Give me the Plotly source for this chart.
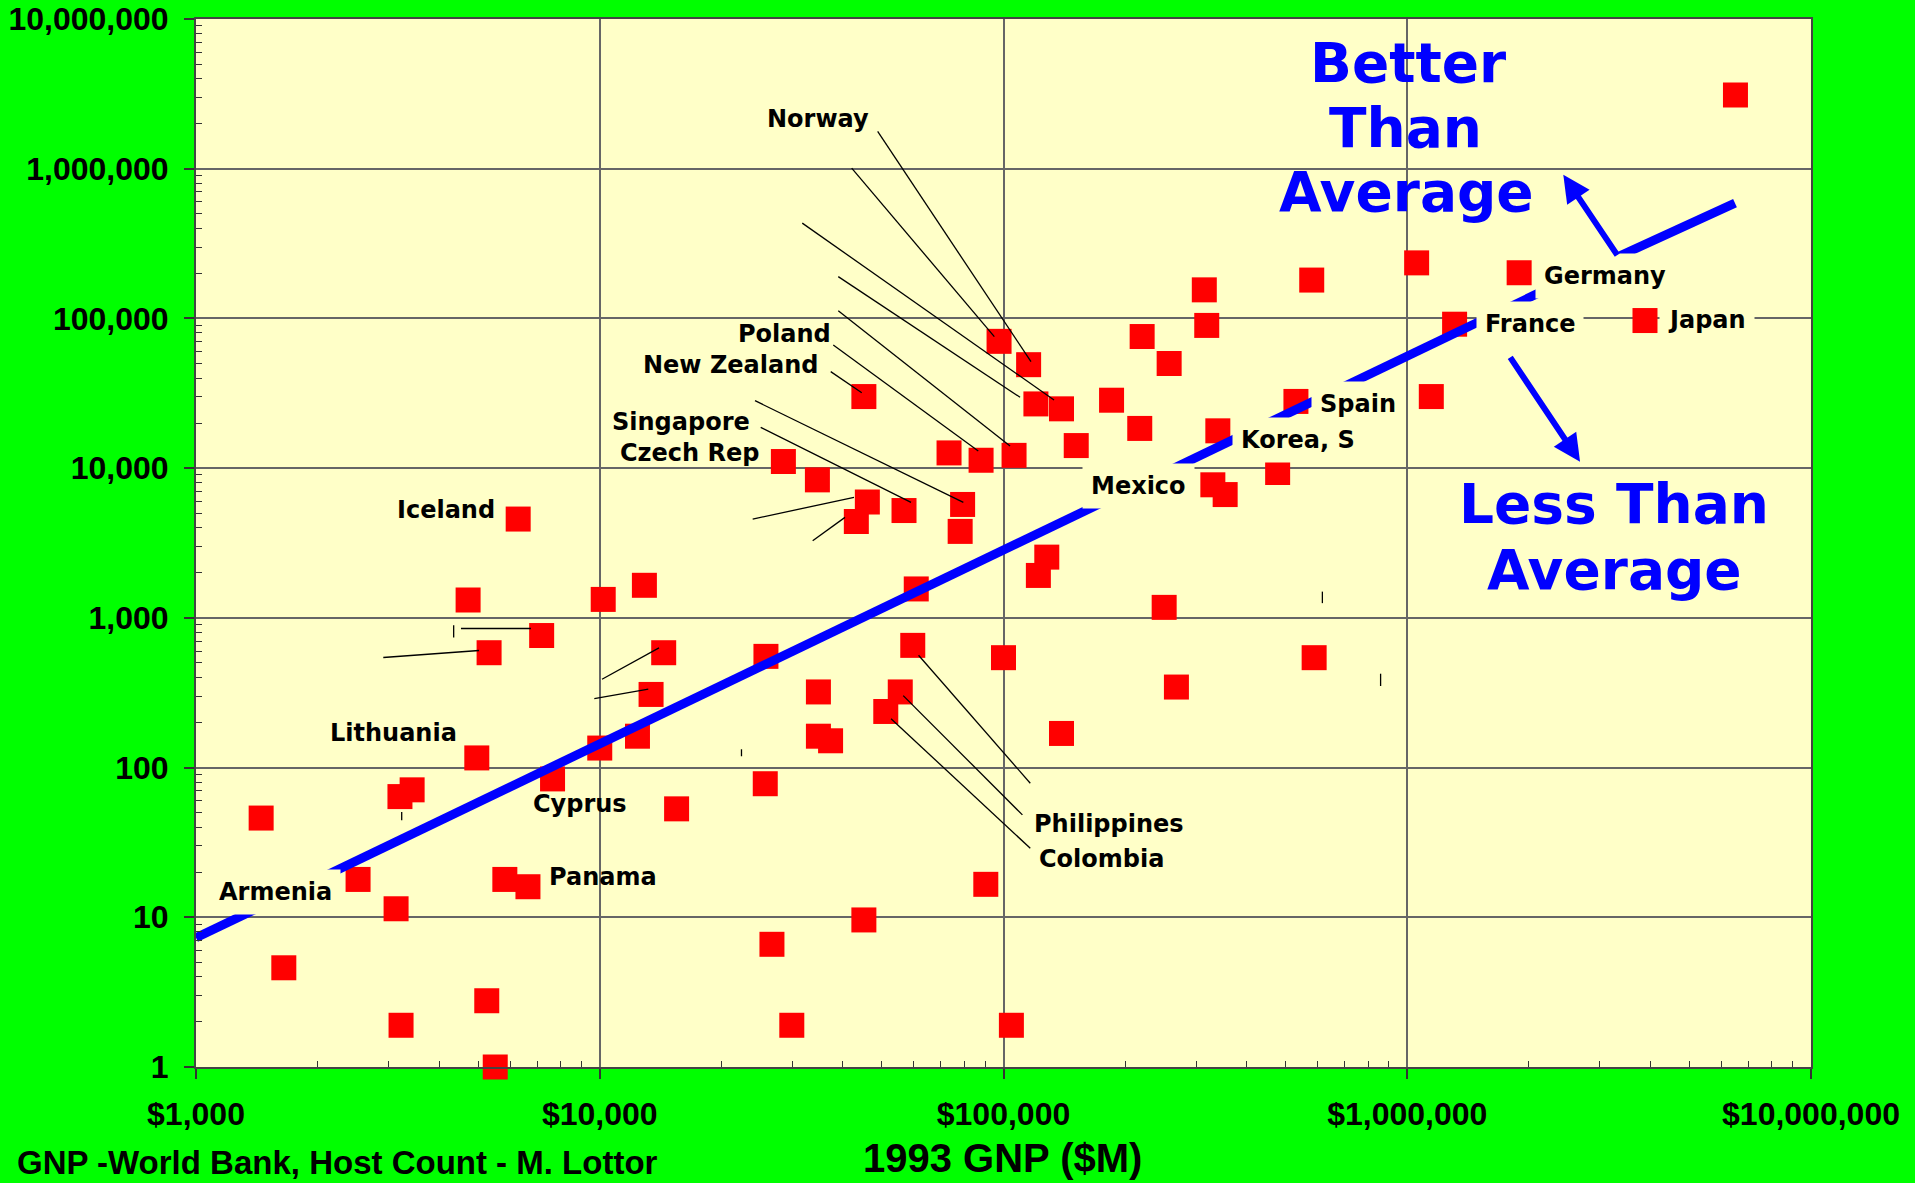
import numpy as np
import plotly.graph_objects as go

# ---------------- data ----------------
gnp_musd = [1450, 1650, 2520, 3130, 3200, 3430, 3220, 4720, 5320, 4960,
            5250, 5510, 5820, 6640, 6280, 7180, 7640, 10000, 10200, 12900,
            12400, 13400, 14400, 15500, 25800, 25700, 26700, 28500, 29900, 34600,
            34800, 34800, 37300, 43200, 45100, 46000, 45100, 51100, 55500, 56700,
            59600, 60800, 73300, 78100, 79200, 88000, 90400, 97500, 100000, 104600,
            106200, 115400, 120300, 122000, 128000, 139200, 139200, 151400, 185200, 217500,
            220500, 250000, 257200, 268100, 314300, 318700, 330000, 339500, 354000, 477500,
            530000, 580000, 588000, 1055000, 1147000, 1310000, 1893000, 3880000, 6500000]
host_count = [46, 4.6, 17.9, 11.4, 64, 71, 1.9, 1316, 585, 116,
              2.77, 1.0, 17.9, 16.0, 4570, 762, 84, 135, 1328, 1650,
              162, 308, 585, 53, 553, 78, 6.6, 11070, 1.9, 8350,
              320, 162, 151, 4400, 30070, 5940, 9.6, 237, 320, 5210,
              655, 1560, 12640, 3780, 5720, 11290, 16.6, 70300, 542, 1.9,
              12170, 49100, 26850, 1920, 2545, 24900, 169, 14150, 28430, 18420,
              75700, 1175, 50000, 345, 155200, 89800, 7740, 17750, 6660, 9350,
              27900, 180400, 542, 235000, 30070, 91500, 201900, 96800, 3107000]

trend_gnp = [1000, 2190000]
trend_hosts = [7.3, 154500]

x_tick_vals = [1e3, 1e4, 1e5, 1e6, 1e7]
x_tick_text = ["$1,000", "$10,000", "$100,000", "$1,000,000", "$10,000,000"]
y_tick_vals = [1, 10, 100, 1e3, 1e4, 1e5, 1e6, 1e7]
y_tick_text = ["1", "10", "100", "1,000", "10,000", "100,000", "1,000,000", "10,000,000"]

label_text = ["Norway", "Poland", "New Zealand", "Singapore", "Czech Rep", "Iceland",
              "Lithuania", "Cyprus", "Panama", "Armenia", "Mexico", "Korea, S",
              "Spain", "France", "Germany", "Japan", "Philippines", "Colombia"]
label_gnp = [34720, 28690, 21120, 15920, 16680, 4172,
             3090, 8915, 10160, 1570, 215400, 536300,
             755100, 2019000, 3095000, 5511000, 182500, 174700]
label_hosts = [2152000, 78770, 48880, 20330, 12710, 5248,
               169.6, 56.9, 18.5, 14.8, 7595, 15410,
               26820, 91880, 192400, 97720, 41.8, 24.6]
label_boxed = [False, False, False, False, False, False,
               False, False, False, True, True, True,
               True, True, True, True, False, False]

# leader lines: (gnp0, hosts0, gnp1, hosts1)
leader_lines = [
    (48790, 1773000, 116970, 51430),
    (42070, 1009000, 94900, 75560),
    (31740, 432900, 133400, 28520),
    (38970, 190300, 109900, 29740),
    (38970, 112700, 103800, 14050),
    (37880, 66500, 86600, 13010),
    (37330, 44110, 44560, 31920),
    (24240, 28220, 79530, 5907),
    (25040, 18740, 59010, 5907),
    (23920, 4568, 42630, 6378),
    (33680, 3271, 40490, 4690),
    (4532, 849, 6755, 849),
    (4347, 894, 4347, 740),
    (2910, 543.5, 5023, 605.5),
    (10130, 389, 14020, 630),
    (9694, 289, 13190, 333.7),
    (3232, 50.5, 3232, 44.4),
    (61600, 563, 116500, 78.6),
    (56440, 302.4, 111400, 48.3),
    (52660, 212, 116500, 28.9),
    (616300, 1497, 616300, 1254),
    (859000, 423.6, 859000, 350.6),
    (22440, 132.5, 22440, 119),
]

# "better / less than average" arrows
check_arm_gnp = [3332000, 6483000]
check_arm_hosts = [258900, 589000]
better_arrow = (3332000, 258900, 2435000, 910400)   # tail -> tip
less_arrow = (1789000, 56150, 2679000, 11040)       # tail -> tip

# ---------------- styling ----------------
GREEN = "#00FF00"
PLOT_BG = "#FFFFC8"
RED = "#FF0000"
BLUE = "#0000FF"
W, H = 1915, 1183
ML, MR, MT, MB = 196, 104, 19, 116

fig = go.Figure()

fig.add_trace(go.Scatter(
    x=gnp_musd, y=host_count, mode="markers",
    marker=dict(symbol="square", size=25, color=RED, line=dict(width=0)),
    cliponaxis=False, hoverinfo="skip", showlegend=False))

fig.add_trace(go.Scatter(
    x=trend_gnp, y=trend_hosts, mode="lines",
    line=dict(color=BLUE, width=9), hoverinfo="skip", showlegend=False))

lx, ly = [], []
for g0, h0, g1, h1 in leader_lines:
    lx += [g0, g1, None]
    ly += [h0, h1, None]
fig.add_trace(go.Scatter(x=lx, y=ly, mode="lines",
                         line=dict(color="black", width=1.3),
                         hoverinfo="skip", showlegend=False))

fig.add_trace(go.Scatter(x=check_arm_gnp, y=check_arm_hosts, mode="lines",
                         line=dict(color=BLUE, width=9),
                         hoverinfo="skip", showlegend=False))

annotations = []
for t, gx, hy, boxed in zip(label_text, label_gnp, label_hosts, label_boxed):
    annotations.append(dict(
        x=np.log10(gx), y=np.log10(hy), xref="x", yref="y", text=t,
        showarrow=False, xanchor="center", yanchor="middle",
        font=dict(family="DejaVu Sans", size=24, color="black", weight="bold"),
        bgcolor=PLOT_BG if boxed else "rgba(0,0,0,0)", borderpad=8 if boxed else 0))

for (g0, h0, g1, h1) in (better_arrow, less_arrow):
    annotations.append(dict(
        x=np.log10(g1), y=np.log10(h1), ax=np.log10(g0), ay=np.log10(h0),
        xref="x", yref="y", axref="x", ayref="y", text="",
        showarrow=True, arrowhead=2, arrowsize=0.9, arrowwidth=6,
        arrowcolor=BLUE, standoff=0, startstandoff=0))


def px_to_paper(px, py):
    return (px - ML) / (W - ML - MR), (H - MB - py) / (H - MT - MB)


big_lines = [("Better", 1408, 63), ("Than", 1405, 128), ("Average", 1406, 192),
             ("Less Than", 1614, 504), ("Average", 1614, 570)]
for t, cx, cy in big_lines:
    xp, yp = px_to_paper(cx, cy)
    annotations.append(dict(
        x=xp, y=yp, xref="paper", yref="paper", text=t, showarrow=False,
        xanchor="center", yanchor="middle",
        font=dict(family="DejaVu Sans", size=55, color=BLUE, weight="bold")))

xp, yp = px_to_paper(1002, 1158)
annotations.append(dict(
    x=xp, y=yp, xref="paper", yref="paper", text="1993 GNP ($M)",
    showarrow=False, xanchor="center", yanchor="middle",
    font=dict(family="Liberation Sans", size=40, color="black", weight="bold")))

xp, yp = px_to_paper(660, 1162)
annotations.append(dict(
    x=xp, y=yp, xref="paper", yref="paper",
    text="GNP -World Bank, Host Count - M. Lottor",
    showarrow=False, xanchor="right", yanchor="middle",
    font=dict(family="Liberation Sans", size=33, color="black", weight="bold")))

minor_vals_x = [m * 10 ** e for e in range(3, 7) for m in range(2, 10)]
minor_vals_y = [m * 10 ** e for e in range(0, 7) for m in range(2, 10)]

tick_font = dict(family="Liberation Sans", size=32, color="black", weight="bold")

fig.update_layout(
    width=W, height=H,
    margin=dict(l=ML, r=MR, t=MT, b=MB, pad=0, autoexpand=False),
    paper_bgcolor=GREEN, plot_bgcolor=PLOT_BG,
    showlegend=False,
    annotations=annotations,
    xaxis=dict(type="log", range=[3, 7], tickmode="array", automargin=False,
               tickvals=x_tick_vals, ticktext=x_tick_text,
               ticks="outside", ticklen=10, tickwidth=1.5, tickcolor="#333",
               tickfont=tick_font, ticklabelstandoff=8,
               showgrid=True, gridcolor="#666", gridwidth=1.5,
               showline=True, linecolor="#444", linewidth=2, mirror=True,
               zeroline=False,
               minor=dict(tickmode="array", tickvals=minor_vals_x, ticks="inside",
                          ticklen=6, tickwidth=1.2, tickcolor="#333", showgrid=False)),
    yaxis=dict(type="log", range=[0, 7], tickmode="array", automargin=False,
               tickvals=y_tick_vals, ticktext=y_tick_text,
               ticks="outside", ticklen=10, tickwidth=1.5, tickcolor="#333",
               tickfont=tick_font, ticklabelstandoff=9,
               showgrid=True, gridcolor="#666", gridwidth=1.5,
               showline=True, linecolor="#444", linewidth=2, mirror=True,
               zeroline=False,
               minor=dict(tickmode="array", tickvals=minor_vals_y, ticks="inside",
                          ticklen=6, tickwidth=1.2, tickcolor="#333", showgrid=False)),
)

fig.write_html("out.html",
               config={"displayModeBar": False},
               post_script="document.body.style.margin='0';"
                           "document.body.style.overflow='hidden';")
